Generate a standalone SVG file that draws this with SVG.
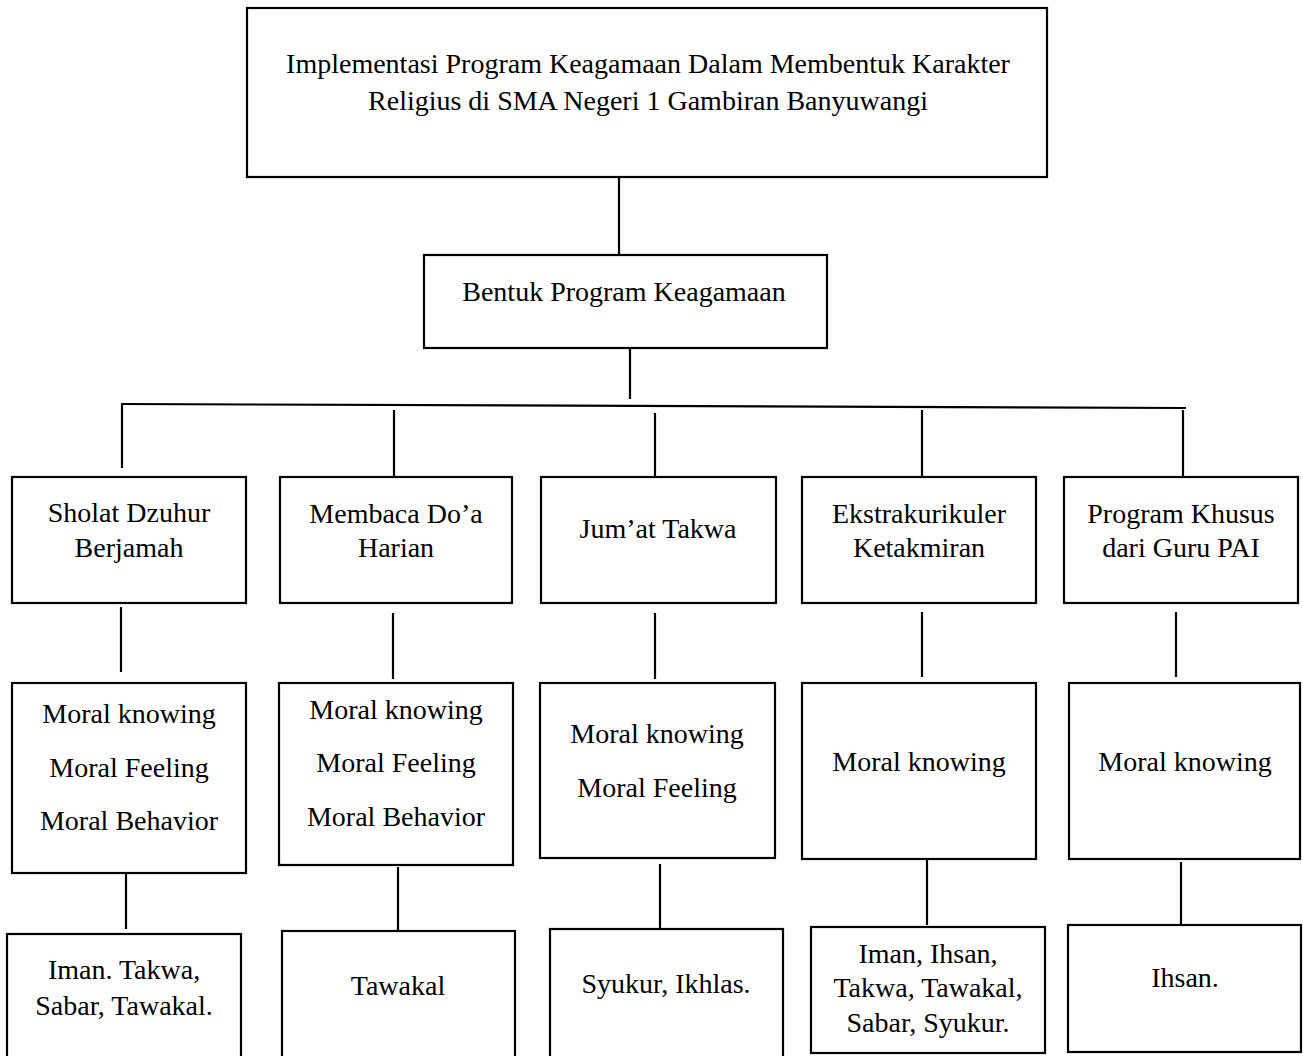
<svg xmlns="http://www.w3.org/2000/svg" width="1303" height="1056" viewBox="0 0 1303 1056">
<style>
rect{fill:#fff;stroke:#000;stroke-width:2.2}
line{stroke:#000;stroke-width:2.2}
text{font-family:"Liberation Serif","Times New Roman",serif;font-size:28px;fill:#000;text-anchor:middle}
</style>
<rect x="0" y="0" width="1303" height="1056" style="stroke:none"/>
<g id="connectors">
<line x1="619" y1="177" x2="619" y2="257"/>
<line x1="630" y1="348" x2="630" y2="399"/>
<line x1="121" y1="404" x2="1186" y2="408"/>
<line x1="122" y1="404" x2="122" y2="468"/>
<line x1="394" y1="410" x2="394" y2="477"/>
<line x1="655" y1="413" x2="655" y2="478"/>
<line x1="922" y1="410" x2="922" y2="477"/>
<line x1="1183" y1="410" x2="1183" y2="477"/>
<line x1="121" y1="607" x2="121" y2="672"/>
<line x1="393" y1="613" x2="393" y2="679"/>
<line x1="655" y1="613" x2="655" y2="679"/>
<line x1="922" y1="612" x2="922" y2="677"/>
<line x1="1176" y1="612" x2="1176" y2="677"/>
<line x1="126" y1="863" x2="126" y2="929"/>
<line x1="398" y1="867" x2="398" y2="932"/>
<line x1="660" y1="864" x2="660" y2="929"/>
<line x1="927" y1="859" x2="927" y2="925"/>
<line x1="1181" y1="862" x2="1181" y2="926"/>
</g>
<g id="root">
<rect x="247" y="8" width="800" height="169"/>
<text x="648" y="73">Implementasi Program Keagamaan Dalam Membentuk Karakter</text>
<text x="648" y="110">Religius di SMA Negeri 1 Gambiran Banyuwangi</text>
</g>
<g id="bentuk">
<rect x="424" y="255" width="403" height="93"/>
<text x="624" y="301">Bentuk Program Keagamaan</text>
</g>
<g id="sholat">
<rect x="12" y="477" width="234" height="126"/>
<text x="129" y="522">Sholat Dzuhur</text>
<text x="129" y="557">Berjamah</text>
</g>
<g id="membaca">
<rect x="280" y="477" width="232" height="126"/>
<text x="396" y="523">Membaca Do’a</text>
<text x="396" y="557">Harian</text>
</g>
<g id="jumat">
<rect x="541" y="477" width="235" height="126"/>
<text x="658" y="538">Jum’at Takwa</text>
</g>
<g id="ekstra">
<rect x="802" y="477" width="234" height="126"/>
<text x="919" y="523">Ekstrakurikuler</text>
<text x="919" y="557">Ketakmiran</text>
</g>
<g id="khusus">
<rect x="1064" y="477" width="234" height="126"/>
<text x="1181" y="523">Program Khusus</text>
<text x="1181" y="557">dari Guru PAI</text>
</g>
<g id="moral-sholat">
<rect x="12" y="683" width="234" height="190"/>
<text x="129" y="723">Moral knowing</text>
<text x="129" y="777">Moral Feeling</text>
<text x="129" y="830">Moral Behavior</text>
</g>
<g id="moral-membaca">
<rect x="279" y="683" width="234" height="182"/>
<text x="396" y="719">Moral knowing</text>
<text x="396" y="772">Moral Feeling</text>
<text x="396" y="826">Moral Behavior</text>
</g>
<g id="moral-jumat">
<rect x="540" y="683" width="235" height="175"/>
<text x="657" y="743">Moral knowing</text>
<text x="657" y="797">Moral Feeling</text>
</g>
<g id="moral-ekstra">
<rect x="802" y="683" width="234" height="176"/>
<text x="919" y="771">Moral knowing</text>
</g>
<g id="moral-khusus">
<rect x="1069" y="683" width="231" height="176"/>
<text x="1185" y="771">Moral knowing</text>
</g>
<g id="nilai-sholat">
<rect x="7" y="934" width="234" height="130"/>
<text x="124" y="979">Iman. Takwa,</text>
<text x="124" y="1015">Sabar, Tawakal.</text>
</g>
<g id="nilai-membaca">
<rect x="282" y="931" width="233" height="133"/>
<text x="398" y="995">Tawakal</text>
</g>
<g id="nilai-jumat">
<rect x="550" y="929" width="233" height="135"/>
<text x="666" y="993">Syukur, Ikhlas.</text>
</g>
<g id="nilai-ekstra">
<rect x="811" y="927" width="234" height="126"/>
<text x="928" y="963">Iman, Ihsan,</text>
<text x="928" y="997">Takwa, Tawakal,</text>
<text x="928" y="1032">Sabar, Syukur.</text>
</g>
<g id="nilai-khusus">
<rect x="1068" y="925" width="233" height="127"/>
<text x="1185" y="987">Ihsan.</text>
</g>
</svg>
